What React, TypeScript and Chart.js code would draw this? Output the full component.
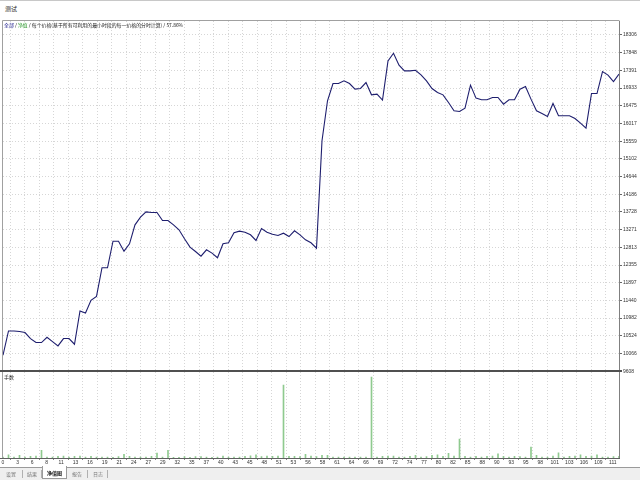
import React, { useEffect, useRef } from "react";
import { Chart, registerables } from "chart.js";

Chart.register(...registerables);

// Equity (净值) per trade index
const equity = [
  10021, 10648, 10648, 10633, 10607, 10452, 10349, 10349, 10486, 10374,
  10262, 10452, 10452, 10305, 11165, 11113, 11441, 11544, 12284, 12284,
  12971, 12971, 12713, 12904, 13394, 13591, 13730, 13712, 13712, 13505,
  13505, 13394, 13265, 13033, 12817, 12705, 12584, 12749, 12662, 12542,
  12904, 12929, 13188, 13230, 13204, 13136, 12989, 13299, 13204, 13152,
  13118, 13178, 13092, 13239, 13136, 13007, 12929, 12791, 15570, 16603,
  17050, 17050, 17119, 17050, 16904, 16921, 17076, 16757, 16774, 16620,
  17635, 17833, 17523, 17377, 17377, 17394, 17274, 17119, 16921, 16817,
  16757, 16559, 16344, 16327, 16414, 17008, 16672, 16628, 16628, 16688,
  16688, 16517, 16628, 16628, 16904, 16972, 16646, 16344, 16275, 16197,
  16533, 16215, 16215, 16215, 16146, 16027, 15898, 16791, 16791, 17359,
  17266, 17101, 17292,
];

// Lots (手数) per trade index
const lots = [
  0.01, 0.033, 0.01, 0.027, 0.01, 0.017, 0.02, 0.077, 0.01, 0.01,
  0.017, 0.02, 0.01, 0.017, 0.02, 0.01, 0.017, 0.01, 0.01, 0.01,
  0.007, 0.013, 0.037, 0.017, 0.01, 0.01, 0.01, 0.017, 0.05, 0.01,
  0.077, 0.007, 0.007, 0.013, 0.007, 0.013, 0.013, 0.01, 0.007, 0.01,
  0.02, 0.01, 0.01, 0.01, 0.017, 0.023, 0.033, 0.013, 0.02, 0.017,
  0.02, 0.73, 0.017, 0.017, 0.013, 0.037, 0.02, 0.013, 0.027, 0.027,
  0.01, 0.01, 0.01, 0.01, 0.01, 0.01, 0.01, 0.81, 0.01, 0.017,
  0.02, 0.02, 0.01, 0.01, 0.017, 0.027, 0.01, 0.013, 0.027, 0.033,
  0.017, 0.047, 0.02, 0.19, 0.017, 0.01, 0.017, 0.01, 0.017, 0.02,
  0.043, 0.017, 0.01, 0.017, 0.013, 0.01, 0.11, 0.027, 0.01, 0.01,
  0.02, 0.053, 0.01, 0.017, 0.02, 0.033, 0.017, 0.02, 0.033, 0.01,
  0.01, 0.013, 0.017,
];

const xLabels = [
  "0", "3", "6", "8", "11", "13", "16", "19", "21", "24", "27", "29", "32",
  "35", "37", "40", "43", "45", "48", "51", "53", "56", "58", "61", "64",
  "66", "69", "72", "74", "77", "80", "82", "85", "88", "90", "93", "95",
  "98", "101", "103", "106", "109", "111",
];
const X_STEP = 2.64;

const yTicks = [
  9608, 10066, 10524, 10982, 11440, 11897, 12355, 12813, 13271, 13728,
  14186, 14644, 15102, 15559, 16017, 16475, 16933, 17391, 17848, 18306,
];
const Y_MIN = 9608;
const Y_MAX = 18667;
const LOTS_MAX = 0.87;

const FONT = "'Liberation Sans', Arial, sans-serif";
const CJK = "'Noto Sans CJK SC', 'Liberation Sans', sans-serif";

const framePlugin = {
  id: "frame",
  afterDraw(chart: any) {
    const { ctx, chartArea: a, scales } = chart;
    const ySep = Math.round(scales.y.bottom);
    ctx.save();
    ctx.strokeStyle = "#a0a0a0";
    ctx.lineWidth = 1;
    ctx.beginPath();
    ctx.moveTo(a.left - 0.5, a.bottom);
    ctx.lineTo(a.left - 0.5, a.top - 0.5);
    ctx.lineTo(a.right + 0.5, a.top - 0.5);
    ctx.stroke();
    ctx.strokeStyle = "#505050";
    ctx.lineWidth = 2;
    ctx.beginPath();
    ctx.moveTo(a.left - 3, ySep);
    ctx.lineTo(a.right + 3, ySep);
    ctx.stroke();
    ctx.strokeStyle = "#606060";
    ctx.lineWidth = 1;
    ctx.beginPath();
    ctx.moveTo(a.left - 3, Math.round(a.bottom) + 0.5);
    ctx.lineTo(a.right + 1, Math.round(a.bottom) + 0.5);
    ctx.stroke();
    ctx.restore();
  },
};

export default function App() {
  const ref = useRef<HTMLCanvasElement>(null);

  useEffect(() => {
    document.body.style.margin = "0";
    const chart = new Chart(ref.current as HTMLCanvasElement, {
      type: "bar",
      data: {
        datasets: [
          {
            type: "line",
            data: equity.map((v, i) => ({ x: i, y: v })),
            yAxisID: "y",
            borderColor: "#1e1e6e",
            borderWidth: 1.1,
            pointRadius: 0,
            tension: 0,
            fill: false,
          } as any,
          {
            type: "bar",
            data: lots.map((v, i) => ({ x: i, y: v })),
            yAxisID: "y2",
            backgroundColor: "#8fca8f",
            barThickness: 1,
            grouped: false,
          } as any,
        ],
      },
      options: {
        animation: false,
        responsive: false,
        maintainAspectRatio: false,
        layout: { padding: { left: 3, top: 3, right: 0, bottom: 0 } },
        plugins: {
          legend: { display: false },
          tooltip: { enabled: false },
        },
        scales: {
          x: {
            type: "linear",
            min: 0,
            max: 112,
            offset: false,
            afterBuildTicks: (s: any) => {
              s.ticks = xLabels.map((_, k) => ({ value: k * X_STEP }));
            },
            afterFit: (s: any) => {
              s.height = 9;
            },
            ticks: {
              autoSkip: false,
              maxRotation: 0,
              minRotation: 0,
              padding: 0,
              color: "#333",
              font: { size: 5, family: FONT },
              callback: (_v: any, i: number) => xLabels[i],
            },
            grid: {
              color: "#d6d6d6",
              lineWidth: 1,
              tickLength: 2,
              tickColor: "#888",
            },
            border: { display: false, dash: [1, 2] },
          },
          y: {
            position: "right",
            stack: "panes",
            stackWeight: 351,
            min: Y_MIN,
            max: Y_MAX,
            afterBuildTicks: (s: any) => {
              s.ticks = yTicks.map((v) => ({ value: v }));
            },
            afterFit: (s: any) => {
              s.width = 21;
            },
            ticks: {
              padding: 1,
              color: "#333",
              font: { size: 5, family: FONT },
              callback: (v: any) => String(v),
            },
            grid: {
              color: "#d6d6d6",
              lineWidth: 1,
              tickLength: 3,
              tickColor: "#666",
            },
            border: { display: true, color: "#808080", dash: [1, 2] },
          },
          y2: {
            position: "right",
            stack: "panes",
            stackWeight: 87,
            min: 0,
            max: LOTS_MAX,
            afterFit: (s: any) => {
              s.width = 21;
            },
            ticks: { display: false },
            grid: { display: false },
            border: { display: true, color: "#808080" },
          },
        } as any,
      },
      plugins: [framePlugin],
    });
    return () => chart.destroy();
  }, []);

  const tabs = [
    { t: "设置", l: 6 },
    { t: "结果", l: 27 },
    { t: "报告", l: 72 },
    { t: "日志", l: 93 },
  ];
  const seps = [22, 41, 87, 107];

  return (
    <div
      style={{
        position: "fixed",
        left: 0,
        top: 0,
        width: 640,
        height: 480,
        background: "#ffffff",
        overflow: "hidden",
        fontFamily: CJK,
      }}
    >
      <div
        style={{
          position: "absolute",
          left: 0,
          top: 0,
          width: 640,
          height: 17,
          borderTop: "1px solid #c8c8c8",
          boxSizing: "border-box",
        }}
      >
        <span
          style={{
            position: "absolute",
            left: 5,
            top: 4,
            fontSize: 6,
            lineHeight: "7px",
            color: "#222",
          }}
        >
          测试
        </span>
      </div>
      <canvas
        ref={ref}
        width={640}
        height={450}
        style={{ position: "absolute", left: 0, top: 17, width: 640, height: 450 }}
      />
      <div
        style={{
          position: "absolute",
          left: 4,
          top: 22,
          fontSize: 4.9,
          lineHeight: "6px",
          whiteSpace: "nowrap",
          color: "#222",
        }}
      >
        <span style={{ color: "#1a1a8c" }}>全部</span>
        {" / "}
        <span style={{ color: "#2e9a2e" }}>净值</span>
        {" / 每个价格(基于所有可利用的最小时段的每一价格的分时计算) / 57.86%"}
      </div>
      <div
        style={{
          position: "absolute",
          left: 4,
          top: 374,
          fontSize: 5,
          lineHeight: "6px",
          color: "#222",
        }}
      >
        手数
      </div>
      <div
        style={{
          position: "absolute",
          left: 0,
          top: 467,
          width: 640,
          height: 13,
          background: "#efefef",
          borderTop: "1px solid #9a9a9a",
          boxSizing: "border-box",
        }}
      >
        {tabs.map((tb) => (
          <span
            key={tb.t}
            style={{
              position: "absolute",
              left: tb.l,
              top: 2,
              fontSize: 5,
              lineHeight: "7px",
              color: "#777",
            }}
          >
            {tb.t}
          </span>
        ))}
        {seps.map((s) => (
          <span
            key={s}
            style={{
              position: "absolute",
              left: s,
              top: 2,
              width: 1,
              height: 8,
              background: "#b0b0b0",
            }}
          />
        ))}
        <div
          style={{
            position: "absolute",
            left: 42,
            top: -2,
            width: 25,
            height: 13,
            background: "#ffffff",
            border: "1px solid #9a9a9a",
            borderTop: "none",
            boxSizing: "border-box",
          }}
        >
          <span
            style={{
              position: "absolute",
              left: 4,
              top: 3,
              fontSize: 5,
              lineHeight: "7px",
              fontWeight: 700,
              color: "#111",
            }}
          >
            净值图
          </span>
        </div>
      </div>
    </div>
  );
}
